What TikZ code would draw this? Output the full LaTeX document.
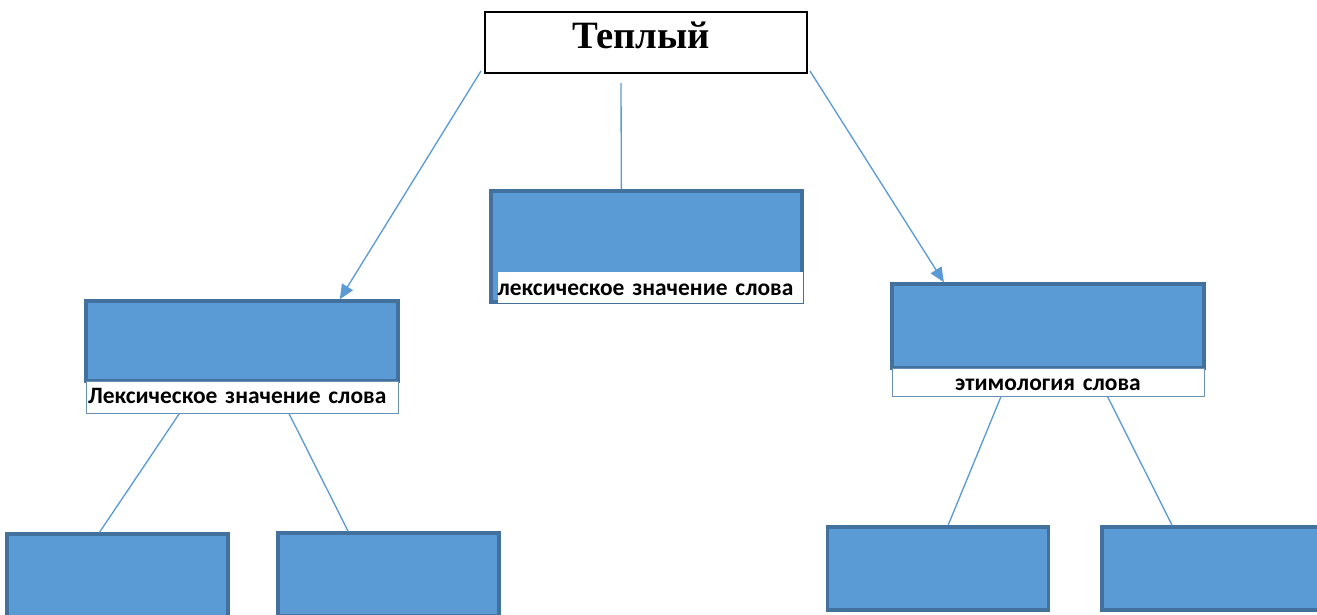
\documentclass[tikz,border=0pt]{standalone}
\usepackage{fontspec}
\newfontfamily\carlito{Carlito}
\newfontfamily\timesr{Liberation Serif}
\usetikzlibrary{positioning,calc,arrows.meta}
\definecolor{boxfill}{HTML}{5B9BD5}
\definecolor{boxedge}{HTML}{41719C}
\definecolor{linkblue}{HTML}{5B9BD5}
\tikzset{
  wordbox/.style={draw=black,line width=1.5pt,fill=white,inner sep=0pt,
    minimum width=241.5pt,minimum height=45.75pt},
  bluebox/.style={fill=boxfill,draw=boxedge,line width=2.6pt,inner sep=0pt},
  leafbox/.style={bluebox,minimum width=165.75pt,minimum height=62.25pt},
  capbox/.style={fill=white,draw=linkblue!60!gray,line width=0.6pt,inner sep=0pt,
    font=\carlito\bfseries\fontsize{17.6}{20}\selectfont},
  link/.style={draw=linkblue,line width=1pt},
  arrowlink/.style={link,-{Triangle[length=11pt,width=9.5pt]}}
}

\begin{document}
\begin{tikzpicture}[x=0.75pt,y=-0.75pt]
    \useasboundingbox (0,0) rectangle (1317,614);
    \clip (0,0) rectangle (1317,614);
    \node (teply) [wordbox] at (646,42.5) {};
    \node (teplyt) [anchor=base,font=\timesr\bfseries\fontsize{29}{32}\selectfont] at (641,48) {Теплый};
    % middle
    \node (midb) [bluebox,minimum width=233.25pt,minimum height=83pt] at (646.5,246.5) {};
    \node (midc) [capbox,draw=none,minimum height=23.25pt,text width=228.75pt,align=left,
      text height=13pt,text depth=1.75pt] at (650,287.5) {лексическое значение слова};
    % left
    \node (lexb) [bluebox,minimum width=234pt,minimum height=60pt] at (242,341) {};
    \node (lexc) [capbox,minimum width=234pt,minimum height=24pt,text width=231pt,align=left,
      text height=12pt,text depth=3pt] at (242,397) {Лексическое значение слова};
    % right
    \node (etyb) [bluebox,minimum width=234pt,minimum height=63pt] at (1048,326) {};
    \node (etyc) [capbox,minimum width=234pt,minimum height=21pt,text width=222pt,align=center,
      text height=13.5pt,text depth=1.5pt] at (1048,382) {этимология слова\hspace*{12pt}};
    % leaves
    \node (lex1) [leafbox] at (117.5,575.5) {};
    \node (lex2) [leafbox] at (388.5,574.5) {};
    \node (ety1) [leafbox] at (938,568.5) {};
    \node (ety2) [leafbox] at (1212.5,568.5) {};
    \coordinate (tl) at (481,71);
    \coordinate (tm) at (621,83);
    \coordinate (tr) at (810,71);
    \draw[arrowlink] (tl) -- ($(lexb.north west)!0.81!(lexb.north east)$);
    \draw[link] (tm) -- ($(midb.north west)!0.42!(midb.north east)$);
    \draw[arrowlink] (tr) -- ($(etyb.north west)!0.17!(etyb.north east)$);
    \draw[link] ($(lexc.south west)!0.3!(lexc.south east)$) -- ($(lex1.north west)!0.42!(lex1.north east)$);
    \draw[link] ($(lexc.south west)!0.65!(lexc.south east)$) -- ($(lex2.north west)!0.32!(lex2.north east)$);
    \draw[link] ($(etyc.south west)!0.35!(etyc.south east)$) -- ($(ety1.north west)!0.545!(ety1.north east)$);
    \draw[link] ($(etyc.south west)!0.69!(etyc.south east)$) -- ($(ety2.north west)!0.32!(ety2.north east)$);
\end{tikzpicture}
\end{document}
